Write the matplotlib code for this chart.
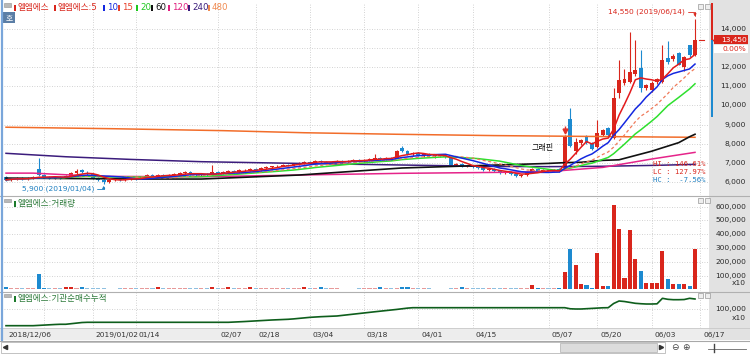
import matplotlib
matplotlib.use('Agg')
import matplotlib.pyplot as plt
from matplotlib.patches import Rectangle
from matplotlib.transforms import blended_transform_factory
import numpy as np
import pandas as pd

plt.rcParams['font.family'] = ['DejaVu Sans', 'Noto Sans CJK KR']

# ---------------- data ----------------
opens = [6250, 6100, 6150, 6200, 6150, 6200, 6650, 6350, 6250, 6200, 6250, 6200, 6300, 6450, 6600, 6450,
         6400, 6200, 6100, 6000, 6100, 6150, 6100, 6150, 6200, 6150, 6250, 6350, 6300, 6350, 6300, 6350,
         6400, 6450, 6500, 6400, 6350, 6400, 6350, 6500, 6450, 6500, 6550, 6500, 6600, 6600, 6650, 6600,
         6700, 6750, 6800, 6850, 6900, 6850, 6950, 7000, 7050, 7000, 7100, 7050, 7000, 7050, 7100, 7050,
         7100, 7150, 7100, 7150, 7200, 7250, 7200, 7250, 7250, 7750, 7600, 7450, 7500, 7400, 7450, 7350,
         7400, 7350, 7250, 6900, 6950, 6800, 6850, 6750, 6700, 6600, 6650, 6550, 6450, 6500, 6400, 6300,
         6350, 6500, 6650, 6550, 6600, 6550, 6650, 6700, 9300, 7600, 8050, 8350, 8050, 7800, 8450, 8800,
         8300, 10650, 11200, 11250, 11650, 11950, 10900, 10800, 11250, 11250, 12500, 12450, 12750, 12000, 13150, 12650]
highs = [6300, 6200, 6250, 6250, 6250, 6300, 7250, 6400, 6300, 6300, 6300, 6350, 6500, 6650, 6650, 6550,
         6450, 6250, 6150, 6150, 6200, 6200, 6200, 6250, 6250, 6300, 6400, 6400, 6400, 6400, 6400, 6450,
         6500, 6550, 6550, 6450, 6450, 6450, 6900, 6550, 6550, 6600, 6600, 6650, 6650, 6700, 6700, 6750,
         6800, 6850, 6900, 6950, 6950, 7000, 7050, 7100, 7100, 7150, 7150, 7100, 7100, 7150, 7150, 7150,
         7200, 7200, 7200, 7250, 7450, 7300, 7300, 7300, 7650, 7900, 7650, 7550, 7550, 7500, 7500, 7450,
         7450, 7400, 7300, 7000, 7000, 6900, 6900, 6800, 6750, 6700, 6700, 6600, 6550, 6550, 6450, 6400,
         6550, 6700, 6700, 6650, 6650, 6650, 6700, 8450, 9850, 8300, 8250, 8450, 8100, 9250, 8750, 8850,
         10900, 12400, 11900, 13850, 13450, 12900, 11150, 11300, 11450, 13200, 13400, 12700, 12800, 12600, 13200, 14550]
lows = [6050, 6050, 6100, 6100, 6100, 6150, 6300, 6200, 6150, 6150, 6150, 6200, 6250, 6400, 6450, 6350,
        6150, 6050, 5900, 5950, 6050, 6050, 6050, 6100, 6100, 6150, 6200, 6250, 6250, 6250, 6250, 6300,
        6350, 6400, 6350, 6300, 6300, 6300, 6350, 6400, 6400, 6450, 6450, 6450, 6550, 6550, 6550, 6550,
        6650, 6700, 6750, 6800, 6800, 6800, 6900, 6950, 6950, 6950, 7000, 6950, 6950, 7000, 7000, 7000,
        7050, 7050, 7050, 7100, 7150, 7150, 7150, 7150, 7250, 7550, 7400, 7350, 7350, 7300, 7300, 7250,
        7300, 7250, 6850, 6850, 6750, 6750, 6700, 6650, 6550, 6550, 6500, 6400, 6400, 6350, 6250, 6230,
        6300, 6450, 6500, 6500, 6500, 6500, 6500, 6650, 7800, 7450, 7950, 8000, 7650, 7750, 8400, 8400,
        8250, 10400, 11100, 11200, 11550, 10700, 10800, 10700, 11150, 11200, 12200, 12350, 12100, 11800, 12550, 12600]
closes = [6100, 6150, 6200, 6150, 6200, 6250, 6350, 6250, 6200, 6250, 6200, 6300, 6450, 6550, 6500, 6400,
          6200, 6100, 6000, 6100, 6150, 6100, 6150, 6200, 6150, 6250, 6350, 6300, 6350, 6300, 6350, 6400,
          6450, 6500, 6400, 6350, 6400, 6350, 6500, 6450, 6500, 6550, 6500, 6600, 6600, 6650, 6600, 6700,
          6750, 6800, 6850, 6900, 6850, 6950, 7000, 7050, 7000, 7100, 7050, 7000, 7050, 7100, 7050, 7100,
          7150, 7100, 7150, 7200, 7250, 7200, 7250, 7200, 7600, 7600, 7450, 7500, 7400, 7450, 7350, 7400,
          7350, 7300, 6900, 6950, 6800, 6850, 6750, 6700, 6600, 6650, 6550, 6450, 6500, 6400, 6300, 6350,
          6500, 6650, 6550, 6600, 6550, 6600, 6550, 8350, 7850, 8100, 8200, 8050, 7700, 8550, 8700, 8450,
          10400, 11350, 11400, 11750, 11850, 10900, 11050, 11200, 11400, 12400, 12300, 12600, 12150, 12550, 12650, 13450]
volumes = [15000, 9000, 9000, 9000, 9000, 9000, 115000, 14000, 9000, 9000, 9000, 15000, 15000, 9000, 15000, 9000,
           9000, 9000, 9000, 4000, 4000, 9000, 9000, 9000, 9000, 9000, 9000, 9000, 15000, 9000, 9000, 9000,
           9000, 9000, 9000, 9000, 9000, 9000, 15000, 9000, 9000, 15000, 9000, 9000, 9000, 15000, 9000, 9000,
           9000, 9000, 9000, 9000, 9000, 9000, 9000, 15000, 9000, 9000, 15000, 9000, 9000, 9000, 4000, 4000,
           4000, 9000, 9000, 9000, 9000, 15000, 9000, 9000, 9000, 17000, 17000, 9000, 9000, 9000, 9000, 4000,
           4000, 4000, 9000, 9000, 15000, 9000, 9000, 9000, 9000, 9000, 9000, 9000, 9000, 9000, 9000, 9000,
           9000, 30000, 14000, 9000, 9000, 9000, 12000, 127000, 296000, 175000, 40000, 30000, 12000, 267000, 25000, 25000,
           615000, 436000, 86000, 431000, 223000, 134000, 45000, 45000, 45000, 279000, 74000, 38000, 38000, 38000, 25000, 291000]
inst_cum = [24100, 24100, 24100, 24100, 24100, 24100, 25500, 27000, 28500, 29500, 30500, 30500,
            33000, 36000, 38500,
            39500, 39500, 39500, 39500, 39500, 39500, 39500, 39500, 39500, 39500, 39500, 39500, 39500, 39500,
            39500, 39500, 39500, 39500, 39500, 39500, 39500, 39500, 39500, 39500, 39500, 39500, 39500,
            40500, 41500, 43000, 44500, 45500,
            47000, 48500, 50000, 51000, 52000, 53200,
            55000, 57500, 60000, 62000, 63600,
            65000, 66000, 67000, 68200,
            71000, 74000, 77000, 79500, 81800,
            84500, 87500, 90000, 93000, 95500,
            98000, 101000, 104000, 105900,
            105900, 105900, 105900, 105900, 105900, 105900, 105900, 105900, 105900, 105900, 105900, 105900, 105900, 105900,
            105900, 105900, 105900, 105900, 105900, 105900, 105900, 105900, 105900, 105900, 105900, 105900, 105900, 105900,
            101000, 100000, 100000,
            101500, 103000, 104500, 105500, 105900,
            125000, 136400,
            134000, 130000, 125900, 124000,
            122700, 122700, 123500,
            148600,
            144000, 142300, 142300, 143000,
            148600, 145500]

# long moving averages (index, value)
ma60_idx = [0, 10, 25, 36, 54, 73, 91, 100, 103, 106, 110, 113, 119, 124, 126, 127]
ma60_val = [6190, 6170, 6140, 6140, 6350, 6720, 6880, 6960, 7000, 7020, 7120, 7150, 7600, 8050, 8360, 8490]
ma120_idx = [0, 5, 17, 36, 54, 73, 91, 100, 110, 119, 127]
ma120_val = [6450, 6450, 6280, 6260, 6350, 6440, 6490, 6530, 6750, 7190, 7540]
ma240_idx = [0, 11, 23, 36, 54, 72, 90, 100, 110, 120, 127]
ma240_val = [7490, 7310, 7170, 7050, 6960, 6880, 6800, 6790, 6810, 6860, 6910]
ma480_idx = [0, 20, 40, 55, 72, 90, 110, 127]
ma480_val = [8860, 8780, 8680, 8570, 8490, 8420, 8370, 8330]

date_idx = [0, 16, 24, 39, 46, 56, 66, 76, 86, 100, 109, 119, 128]
date_lbl = ['2018/12/06', '2019/01/02', '01/14', '02/07', '02/18', '03/04', '03/18',
            '04/01', '04/15', '05/07', '05/20', '06/03', '06/17']
grid_idx = [7, 16, 24, 39, 46, 56, 66, 76, 86, 100, 109, 119, 128]
price_ticks = [14000, 12000, 11000, 10000, 9000, 8000, 7000, 6000]
price_grid = [6000, 7000, 8000, 9000, 10000, 11000, 12000, 13000, 14000]
vol_ticks = [100000, 200000, 300000, 400000, 500000, 600000]
inst_ticks = [100000]
high_date = '2019/06/14'
low_date = '2019/01/04'
change_pct = '0.00%'
range_low = 9400
stats = ['HI : 146.61%', 'LC : 127.97%', 'HC :  -7.56%']
news_idx, news_price = 103, 8650
news_label_idx, news_label_price, news_label = 99, 7820, '그래핀'
legend_items = [('엘엠에스', '#d9261c'), ('엘엠에스:5', '#d9261c'), ('10', '#1428e0'), ('15', '#e8402a'),
                ('20', '#1ec81e'), ('60', '#111111'), ('120', '#e0207f'), ('240', '#3b1c7c'), ('480', '#f08a50')]

# ---------------- styling ----------------
RED = '#d9261c'
BLUE = '#1d8ad0'
PALE_RED = '#e79a9a'
PALE_BLUE = '#8fc0e0'
GRID = '#c4c4c4'
FS = 5.4
W, H = 750, 354

opens = np.array(opens); highs = np.array(highs); lows = np.array(lows); closes = np.array(closes)
volumes = np.array(volumes)
n = len(closes)
x = np.arange(n)
up = closes >= opens
cols = np.where(up, RED, BLUE)
vcols = np.where(volumes < 12000, np.where(up, PALE_RED, PALE_BLUE), cols)

fig = plt.figure(figsize=(W / 100, H / 100), dpi=100)
fig.patch.set_facecolor('white')


def rect(x0, y0, x1, y1):
    return [x0 / W, 1 - y1 / H, (x1 - x0) / W, (y1 - y0) / H]


bg = fig.add_axes([0, 0, 1, 1], zorder=0)
bg.set_xlim(0, W); bg.set_ylim(H, 0); bg.axis('off')
bg.add_patch(Rectangle((709, 0), 41, 340, color='#e2e2e2', lw=0))
bg.add_patch(Rectangle((0, 328), 709, 12, color='#ededed', lw=0))

XL = (-0.37, 129.58)


def clean(a):
    a.set_xlim(*XL)
    for s in a.spines.values():
        s.set_visible(False)
    a.set_xticks([]); a.set_yticks([])
    a.patch.set_alpha(0)


def vgrid(a):
    a.vlines(grid_idx, 0, 1, transform=blended_transform_factory(a.transData, a.transAxes),
             colors=GRID, lw=0.6, linestyles=(0, (1, 2)), zorder=1)


def right_labels(a, vals, fmt):
    tr = blended_transform_factory(a.transAxes, a.transData)
    for v in vals:
        a.annotate(fmt(v), xy=(1, v), xycoords=tr, xytext=(37 * 0.72, 0), textcoords='offset points',
                   ha='right', va='center', fontsize=FS, color='#2a2a2a', annotation_clip=False)


# ---------------- price panel ----------------
ax = fig.add_axes(rect(4, 3, 709, 195), zorder=2)
clean(ax)
ax.set_ylim(5302, 15380)
ax.hlines(price_grid, XL[0], XL[1], colors=GRID, lw=0.6, linestyles=(0, (1, 2)), zorder=1)
vgrid(ax)

ax.vlines(x, lows, highs, colors=cols, lw=0.8, zorder=3)
body_lo = np.minimum(opens, closes)
body_h = np.maximum(np.abs(closes - opens), 30)
ax.bar(x, body_h, bottom=body_lo, width=0.72, color=cols, lw=0, zorder=3)

s = pd.Series(closes, dtype=float)
ax.plot(ma480_idx, ma480_val, color='#f26d2a', lw=1.1, zorder=4)
ax.plot(ma240_idx, ma240_val, color='#3b1c7c', lw=1.1, zorder=4)
ax.plot(ma120_idx, ma120_val, color='#e5248a', lw=1.1, zorder=4)
ax.plot(ma60_idx, ma60_val, color='#111111', lw=1.2, zorder=4)
ax.plot(x, s.rolling(20, min_periods=1).mean(), color='#2ee02e', lw=1.1, zorder=5)
ax.plot(x, s.rolling(15, min_periods=1).mean(), color='#f07a5a', lw=0.9, ls=(0, (2.5, 2)), zorder=5)
ax.plot(x, s.rolling(10, min_periods=1).mean(), color='#1428e0', lw=1.1, zorder=5)
ax.plot(x, s.rolling(5, min_periods=1).mean(), color='#e31a1c', lw=1.1, zorder=6)

imax = int(np.argmax(highs)); imin = int(np.argmin(lows))
ax.annotate(f"{highs[imax]:,} ({high_date})", xy=(imax, highs[imax]), xytext=(-7, 4.8),
            textcoords='offset points', ha='right', va='center', color=RED, fontsize=FS, zorder=8,
            arrowprops=dict(arrowstyle='-|>', color=RED, lw=0.6, shrinkA=0, shrinkB=1.5, mutation_scale=4,
                            connectionstyle='angle,angleA=0,angleB=90,rad=0', relpos=(1, 0.5)))
ax.annotate(f"{lows[imin]:,} ({low_date})", xy=(imin, lows[imin]), xytext=(-7, -3.6),
            textcoords='offset points', ha='right', va='center', color='#1d7fc0', fontsize=FS, zorder=8,
            arrowprops=dict(arrowstyle='-|>', color='#1d7fc0', lw=0.6, shrinkA=0, shrinkB=1.5, mutation_scale=4,
                            connectionstyle='angle,angleA=0,angleB=90,rad=0', relpos=(1, 0.5)))

ax.text(news_label_idx, news_label_price, news_label, ha='center', va='center', fontsize=5.8,
        color='#111111', zorder=7, bbox=dict(boxstyle='square,pad=0.1', fc='white', ec='none'))
ax.plot([news_idx], [news_price], marker='v', ms=3.5, color='#e0302a', zorder=7, ls='none')
ax.vlines(news_idx, news_price + 80, news_price + 250, colors='#e0302a', lw=1.0, zorder=7)

stat_cols = [RED, RED, '#1d7fc0']
for k, (txt, c) in enumerate(zip(stats, stat_cols)):
    ax.text(0.9206, 0.161 - 0.042 * k, txt, transform=ax.transAxes, ha='left', va='center',
            fontsize=5.2, color=c, family='DejaVu Sans Mono', zorder=8)

right_labels(ax, price_ticks, lambda v: f"{v:,}")

# current price box and range bar
last_close = int(closes[-1])
fig.canvas.draw()
yd = H - ax.transData.transform((0, last_close))[1]
ytop = H - ax.transData.transform((0, ax.get_ylim()[1]))[1]
ylow = H - ax.transData.transform((0, range_low))[1]
ov = fig.add_axes([0, 0, 1, 1], zorder=9)
ov.set_xlim(0, W); ov.set_ylim(H, 0); ov.axis('off'); ov.patch.set_alpha(0)
ov.add_patch(Rectangle((710.5, ytop), 2.4, yd - ytop, color=RED, lw=0))
ov.add_patch(Rectangle((710.5, yd), 2.4, ylow - yd, color='#1d8ad0', lw=0))
ov.add_patch(Rectangle((714, yd - 4.6), 34, 9.2, color=RED, lw=0))
ov.text(746.5, yd, f"{last_close:,}", ha='right', va='center', fontsize=FS, color='white')
ov.plot([715], [yd], marker='<', ms=3.2, color=RED)
ov.add_patch(Rectangle((714, yd + 5), 34, 8.5, color='white', lw=0))
ov.text(746.5, yd + 9.2, change_pct, ha='right', va='center', fontsize=FS, color=RED)
ov.plot([699, 704], [yd, yd], color=RED, lw=0.8)

# ---------------- volume panel ----------------
axv = fig.add_axes(rect(4, 196, 709, 291), zorder=2)
clean(axv)
axv.set_ylim(-10900, 677500)
axv.hlines(vol_ticks, XL[0], XL[1], colors=GRID, lw=0.6, linestyles=(0, (1, 2)), zorder=1)
vgrid(axv)
axv.bar(x, volumes, width=0.75, color=vcols, lw=0, zorder=3)
right_labels(axv, vol_ticks, lambda v: f"{v:,}")
axv.text(1 + 37 / 705, 0.084, 'x10', transform=axv.transAxes, ha='right', va='center', fontsize=FS, color='#2a2a2a')

# ---------------- institution cumulative panel ----------------
axi = fig.add_axes(rect(4, 292, 709, 328), zorder=2)
clean(axi)
axi.set_ylim(13600, 177300)
axi.hlines(inst_ticks, XL[0], XL[1], colors=GRID, lw=0.6, linestyles=(0, (1, 2)), zorder=1)
vgrid(axi)
axi.plot(x, inst_cum, color='#0e5e1c', lw=1.2, zorder=3)
right_labels(axi, inst_ticks, lambda v: f"{v:,}")
axi.text(1 + 37 / 705, 0.278, 'x10', transform=axi.transAxes, ha='right', va='center', fontsize=FS, color='#2a2a2a')
trd = blended_transform_factory(axi.transData, axi.transAxes)
for di, dl in zip(date_idx, date_lbl):
    axi.annotate(dl, xy=(di, 0), xycoords=trd, xytext=(2, -2.6), textcoords='offset points',
                 ha='left', va='top', fontsize=FS, color='#333333', annotation_clip=False)

# ---------------- frame decorations ----------------
for yy in (195.5, 291.5):
    ov.plot([0, W], [yy, yy], color='#b0b0b0', lw=0.8)
ov.plot([0, W], [328, 328], color='#c8c8c8', lw=0.6)
ov.plot([0, W], [340.5, 340.5], color='#a8a8a8', lw=0.8)
ov.plot([1.5, 1.5], [0, 340], color='#7aa6da', lw=1.6)

# legend row
lx_marker = [14, 54, 103, 118, 136, 151, 168, 188, 208]
for (txt, c), mx in zip(legend_items, lx_marker):
    ov.add_patch(Rectangle((mx, 4.5), 2.2, 6, color=c, lw=0))
    ov.text(mx + 4, 7.6, txt, ha='left', va='center', fontsize=6.2, color=c)
ov.add_patch(Rectangle((4, 3), 7, 3.5, fc='#b8b8b8', ec='#909090', lw=0.4))
ov.add_patch(Rectangle((2.5, 12), 12.5, 11, color='#5b7ea6', lw=0))
ov.text(8.7, 17.5, '호', ha='center', va='center', fontsize=5.6, color='white')

for yy, title in ((203.5, '엘엠에스:거래량'), (298.5, '엘엠에스:기관순매수누적')):
    ov.add_patch(Rectangle((4, yy - 5), 7, 3.5, fc='#b8b8b8', ec='#909090', lw=0.4))
    ov.add_patch(Rectangle((14, yy - 3), 2.2, 6, color='#1c7a2c', lw=0))
    ov.text(18, yy, title, ha='left', va='center', fontsize=6.2, color='#2d7a3a')

for yy in (4, 198, 293):
    for xx in (698, 704.5):
        ov.add_patch(Rectangle((xx, yy), 5, 5, fc='#eeeeee', ec='#9a9a9a', lw=0.5))

# scroll bar row
ov.add_patch(Rectangle((1, 341.5), 664, 11.5, fc='white', ec='#b8b8b8', lw=0.6))
ov.add_patch(Rectangle((560, 342.5), 97, 9.5, fc='#dcdcdc', ec='#b0b0b0', lw=0.5))
ov.plot([5], [347.3], marker='<', ms=3, color='#333333')
ov.plot([661], [347.3], marker='>', ms=3, color='#333333')
ov.text(675, 347.3, '⊖', ha='center', va='center', fontsize=6.5, color='#444444')
ov.text(686, 347.3, '⊕', ha='center', va='center', fontsize=6.5, color='#444444')
ov.plot([708, 746], [349, 349], color='#666666', lw=0.6)
ov.plot([714, 714], [344, 352], color='#444444', lw=1.0)

fig.savefig('out.png', dpi=100)
